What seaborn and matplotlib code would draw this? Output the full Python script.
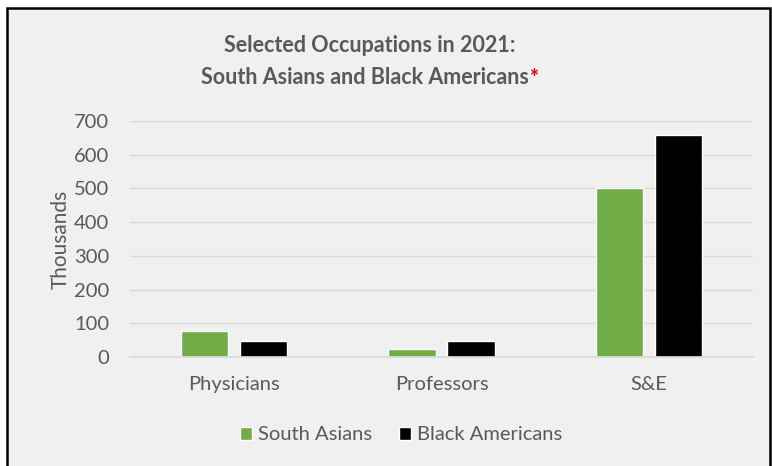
import seaborn as sns
import matplotlib.pyplot as plt
import pandas as pd
from matplotlib.patches import Rectangle

# Data (thousands)
occupations = ["Physicians", "Professors", "S&E"]
south_asians = [78, 23, 502]
black_americans = [48, 46, 658]
groups = ["South Asians", "Black Americans"]
colors = ["#70ad47", "#000000"]

df = pd.DataFrame({
    "Occupation": occupations * 2,
    "Group": [groups[0]] * 3 + [groups[1]] * 3,
    "Value": south_asians + black_americans,
})

sns.set_theme(style="white")
plt.rcParams["font.family"] = ["Lato", "DejaVu Sans"]

bg = "#f0f0f0"
txt = "#595959"
W, H = 772, 466
fig = plt.figure(figsize=(7.72, 4.66), dpi=100, facecolor="white")
fig.patches.append(Rectangle((7 / W, -0.01), 763 / W, 1 - 8 / H + 0.01,
                             transform=fig.transFigure, facecolor=bg,
                             edgecolor="black", linewidth=1.8, zorder=-10))
ax = fig.add_axes([130 / W, 1 - 357 / H, (753 - 130) / W, (357 - 121) / H])
ax.set_facecolor(bg)

sns.barplot(data=df, x="Occupation", y="Value", hue="Group", palette=colors,
            width=0.568, gap=0.2, ax=ax, legend=True, saturation=1)

ax.set_ylim(0, 700)
ax.set_yticks(range(0, 701, 100))
ax.yaxis.grid(True, color="#d9d9d9", linewidth=1)
ax.set_axisbelow(True)
for s in ["top", "right", "left"]:
    ax.spines[s].set_visible(False)
ax.spines["bottom"].set_color("#d9d9d9")
ax.tick_params(axis="both", length=0, labelsize=14.5, colors=txt)
ax.tick_params(axis="y", pad=15)
ax.tick_params(axis="x", pad=14)
ax.set_xlabel("")
ax.set_ylabel("Thousands", fontsize=15, color=txt, labelpad=2)

tx = 370 / W
fig.text(tx, 1 - 45 / H, "Selected Occupations in 2021:", ha="center", va="center",
         fontsize=15.5, fontweight="bold", color=txt)
t2 = fig.text(tx - 0.006, 1 - 78 / H, "South Asians and Black Americans", ha="center",
              va="center", fontsize=15.5, fontweight="bold", color=txt)
fig.canvas.draw()
bb = t2.get_window_extent()
fig.text(bb.x1 / W + 0.001, 1 - 78 / H, "*", ha="left", va="center",
         fontsize=15.5, fontweight="bold", color="#e00000")

leg = ax.legend(loc="center", bbox_to_anchor=(401 / W, 1 - 435 / H),
                bbox_transform=fig.transFigure, ncol=2, frameon=False,
                fontsize=14.5, handlelength=0.6, handleheight=0.6,
                handletextpad=0.3, columnspacing=1.3)
for t in leg.get_texts():
    t.set_color(txt)

fig.savefig("out.png", dpi=100, facecolor="white")
